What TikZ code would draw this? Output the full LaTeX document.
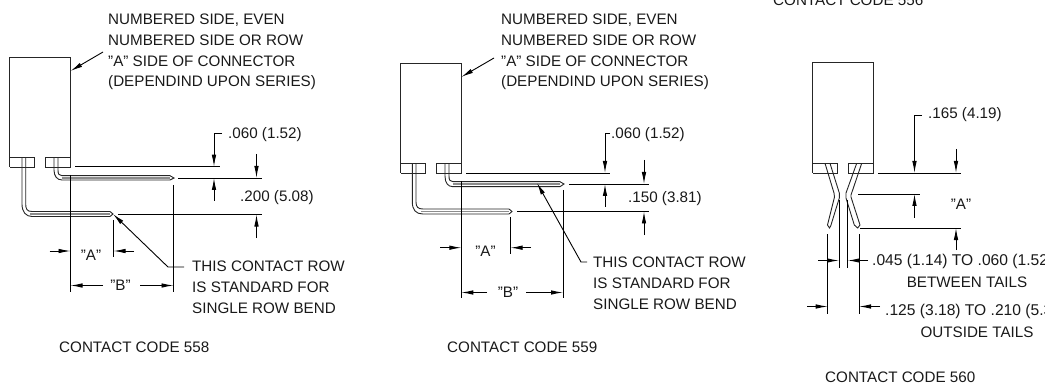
\documentclass[tikz,border=0pt]{standalone}
\usepackage{fontspec}
\setmainfont{Liberation Sans}
\usetikzlibrary{arrows.meta}
\tikzset{
	dimline/.style={line width=0.9pt,-{Latex[length=12pt,width=4.5pt]}},
	extline/.style={line width=0.8pt},
	outline/.style={line width=0.9pt,black!85},
	labeltext/.style={font=\fontsize{15.2}{20.7}\selectfont,align=left,inner sep=0pt,anchor=north west,text=black!90},
	widetext/.style={labeltext,font=\fontsize{15.6}{20.7}\selectfont}
}
\begin{document}
\begin{tikzpicture}[x=1pt,y=-1pt]
	\useasboundingbox (0,0) rectangle (1045,385);
	
	% contact code 558
	\draw[outline] (9.5,167) -- (9.5,57) -- (70.5,57) -- (70.5,167) -- (45,167) -- (45,157.5);
	\draw[outline] (9.5,157.5) -- (34.5,157.5) -- (34.5,167) -- (9.5,167);
	\draw[outline] (45,157.5) -- (70.5,157.5);
	\fill[black!45] (30,213.2) rectangle (110,215);
	\fill[black!45] (62,177.2) rectangle (170,178.8);
	\draw[outline] (22,157.5) -- (22,204) .. controls (22,212) and (26,216.5) .. (32,216.5) -- (110,216.5) -- (113,214) -- (110,211.5) -- (32,211.5) .. controls (27,211.5) and (25.7,209) .. (25.7,204) -- (25.7,157.5);
	\draw[outline] (54,157.5) -- (54,170) .. controls (54,176) and (57,180) .. (62,180) -- (170,180) -- (174,178) -- (170,175.7) -- (62,175.7) .. controls (59,175.7) and (58,174) .. (58,170) -- (58,157.5);
	\coordinate (a1) at (214,133);
	\node[labeltext,anchor=west] (n1) at (228,135) {.060 (1.52)};
	\node[labeltext] (t1) at (108,14) {NUMBERED SIDE, EVEN\\NUMBERED SIDE OR ROW\\"A" SIDE OF CONNECTOR\\(DEPENDIND UPON SERIES)};
	\coordinate (p1) at (103,52);
	\coordinate (q1) at (70.5,71);
	\draw[dimline] (p1) -- (q1);
	\draw[dimline] (222,133) -- (a1) -- (214,166.7);
	\draw[dimline] (214,201) -- (214,178);
	\draw[dimline] (256.5,154) -- (256.5,178);
	\draw[dimline] (256.5,238) -- (256.5,214.5);
	\draw[extline] (75,166.7) -- (220,166.7);
	\draw[extline] (178,178) -- (262,178);
	\draw[extline] (118,214.5) -- (262,214.5);
	\draw[extline] (70.5,175) -- (70.5,292);
	\draw[extline] (173.5,185) -- (173.5,292);
	\draw[extline] (113.5,220) -- (113.5,257);
	\node[labeltext,anchor=west] (d1) at (240,198) {.200 (5.08)};
	\draw[dimline] (49.5,251) -- (70.5,251);
	\draw[dimline] (134,251) -- (113.5,251);
	\node[labeltext,anchor=center] (a1t) at (91,255) {"A"};
	\draw[dimline] (103,285.5) -- (70.5,285.5);
	\draw[dimline] (140,285.5) -- (173.5,285.5);
	\node[labeltext,anchor=center] (b1t) at (120.5,285) {"B"};
	\draw[dimline] (184,267) -- (168,267) -- (113,214);
	\node[labeltext] (r1) at (192,261) {THIS CONTACT ROW\\IS STANDARD FOR\\SINGLE ROW BEND};
	\node[labeltext] (c1) at (59,342) {CONTACT CODE 558};
	
	% contact code 559
	\draw[outline] (400.7,173) -- (400.7,63) -- (461.3,63) -- (461.3,173) -- (436,173) -- (436,163.3);
	\draw[outline] (400.7,163.3) -- (425.7,163.3) -- (425.7,173) -- (400.7,173);
	\draw[outline] (436,163.3) -- (461.3,163.3);
	\fill[black!45] (421,210.7) rectangle (509,212.4);
	\fill[black!45] (453,183.3) rectangle (560,185);
	\draw[outline] (412.3,163.3) -- (412.3,202) .. controls (412.3,210) and (416,214) .. (423,214) -- (509,214) -- (512,211.5) -- (509,209) -- (423,209) .. controls (418,209) and (416,207) .. (416,202) -- (416,163.3);
	\draw[outline] (445,163.3) -- (445,176) .. controls (445,183) and (448,186.7) .. (453,186.7) -- (560,186.7) -- (564,184) -- (560,181.7) -- (453,181.7) .. controls (450,181.7) and (449,180) .. (449,176) -- (449,163.3);
	\coordinate (a2) at (605,133);
	\node[labeltext,anchor=west] (n2) at (611,135) {.060 (1.52)};
	\node[labeltext] (t2) at (501,14) {NUMBERED SIDE, EVEN\\NUMBERED SIDE OR ROW\\"A" SIDE OF CONNECTOR\\(DEPENDIND UPON SERIES)};
	\coordinate (p2) at (494,58);
	\coordinate (q2) at (461.3,77);
	\draw[dimline] (p2) -- (q2);
	\draw[dimline] (610,133) -- (a2) -- (605,173);
	\draw[dimline] (605,207) -- (605,184);
	\draw[dimline] (644,160) -- (644,184);
	\draw[dimline] (644,235) -- (644,211.5);
	\draw[extline] (466,173) -- (610,173);
	\draw[extline] (569,184) -- (649,184);
	\draw[extline] (517,211.5) -- (649,211.5);
	\draw[extline] (461.3,181) -- (461.3,298);
	\draw[extline] (563,190) -- (563,298);
	\draw[extline] (510.5,217) -- (510.5,254);
	\node[labeltext,anchor=west] (d2) at (628,199) {.150 (3.81)};
	\draw[dimline] (440,247.7) -- (461.3,247.7);
	\draw[dimline] (531,247.7) -- (510.5,247.7);
	\node[labeltext,anchor=center] (a2t) at (485.5,251) {"A"};
	\draw[dimline] (487,292.5) -- (461.3,292.5);
	\draw[dimline] (526,292.5) -- (563,292.5);
	\node[labeltext,anchor=center] (b2t) at (508,292) {"B"};
	\draw[dimline] (587,262) -- (581,262) -- (537,183);
	\node[labeltext] (r2) at (593,257) {THIS CONTACT ROW\\IS STANDARD FOR\\SINGLE ROW BEND};
	\node[labeltext] (c2) at (447,342) {CONTACT CODE 559};
	
	% contact code 560
	\node[labeltext,anchor=base west] (c3top) at (773,5.5) {CONTACT CODE 556};
	\draw[outline] (812.7,173) -- (812.7,62.3) -- (873.7,62.3) -- (873.7,173) -- (848.7,173) -- (848.7,163.3);
	\draw[outline] (812.7,163.3) -- (837.7,163.3) -- (837.7,173) -- (812.7,173);
	\draw[outline] (848.7,163.3) -- (873.7,163.3);
	\draw[outline] (825,163.3) -- (834,193) -- (834.5,197) -- (827.5,225) -- (829.5,228) -- (830.7,226) -- (839.3,198) -- (839.3,193) -- (830,163.3);
	\draw[outline] (856.7,163.3) -- (846,193) -- (846,198) -- (854.3,225) -- (857.7,228) -- (860,225) -- (851,197) -- (851,195) -- (861.7,163.3);
	\coordinate (a3) at (914.5,115);
	\node[labeltext,anchor=west] (n3) at (928,115) {.165 (4.19)};
	\draw[dimline] (922,115) -- (a3) -- (914.5,173);
	\draw[dimline] (956,149) -- (956,173);
	\draw[dimline] (914.5,218) -- (914.5,194);
	\draw[dimline] (956,250) -- (956,228);
	\draw[extline] (878,173) -- (961,173);
	\draw[extline] (858,194.7) -- (920,194.7);
	\draw[extline] (860,228) -- (961,228);
	\node[labeltext,anchor=center] (a3t) at (961,204) {"A"};
	\draw[extline] (839,200) -- (839,268);
	\draw[extline] (847.7,200) -- (847.7,268);
	\draw[extline] (827.7,234) -- (827.7,314);
	\draw[extline] (859,234) -- (859,314);
	\draw[dimline] (818,260.5) -- (839,260.5);
	\draw[dimline] (868,260.5) -- (847.7,260.5);
	\draw[dimline] (807,306.5) -- (827.7,306.5);
	\draw[dimline] (880,306.5) -- (859,306.5);
	\node[widetext,anchor=west] (g3) at (872,261) {.045 (1.14) TO .060 (1.52)};
	\node[labeltext,anchor=center] (g3b) at (967,282) {BETWEEN TAILS};
	\node[widetext,anchor=west] (o3) at (885,311) {.125 (3.18) TO .210 (5.33)};
	\node[labeltext,anchor=center] (o3b) at (977,332) {OUTSIDE TAILS};
	\node[labeltext] (c3) at (825,372) {CONTACT CODE 560};
\end{tikzpicture}
\end{document}
